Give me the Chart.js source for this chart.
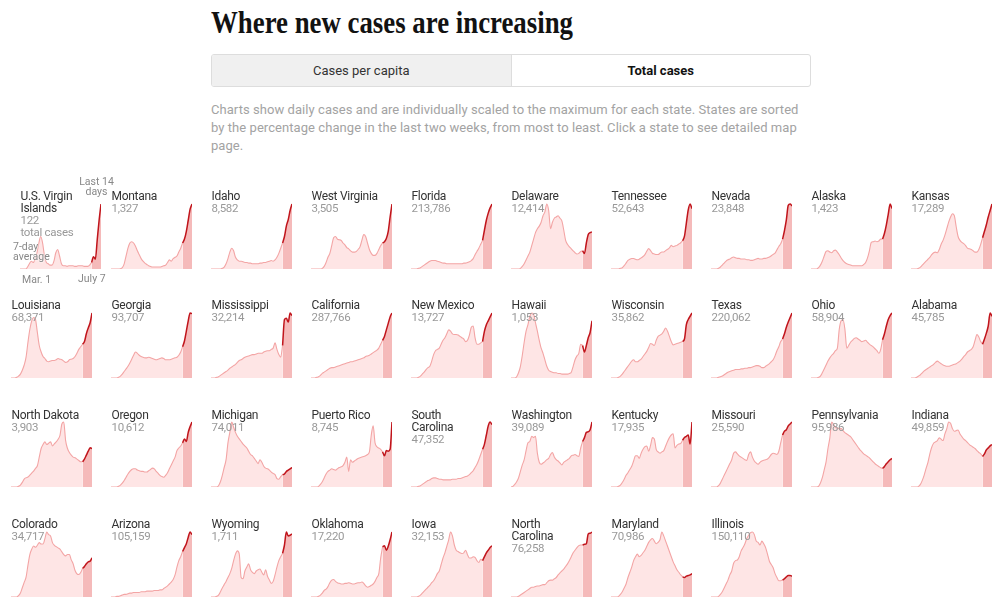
<!DOCTYPE html>
<html>
<head>
<meta charset="utf-8">
<script src="https://cdn.jsdelivr.net/npm/chart.js@4.4.1/dist/chart.umd.min.js"></script>
<style>
  body { margin: 0; background: #fff; font-family: Roboto, "Liberation Sans", sans-serif; }
  #page { position: relative; width: 1002px; height: 605px; overflow: hidden; }
  #title { position: absolute; left: 211px; top: 5px; margin: 0; font: bold 31px "Liberation Serif", serif;
    color: #121212; white-space: nowrap; transform-origin: 0 0; }
  .toggle { position: absolute; left: 211px; top: 54px; width: 598px; height: 31px; border: 1px solid #ddd;
    border-radius: 3px; display: flex; overflow: hidden; }
  .toggle div { flex: 1; text-align: center; line-height: 31px; font-size: 13px; color: #333; }
  .toggle .off { background: #f0f0f0; border-right: 1px solid #ddd; }
  .toggle .on { font-weight: bold; color: #121212; }
  #note { position: absolute; left: 211px; top: 101px; margin: 0; font-size: 13px; line-height: 18px;
    letter-spacing: 0.06px; color: #a3a3a3; white-space: nowrap; }
  .cell { position: absolute; }
  .lab { position: absolute; font-size: 12px; line-height: 12px; letter-spacing: -0.3px; color: #333;
    white-space: pre-line; pointer-events: none; }
  .lab span { color: #999; font-size: 11.5px; }
  .ann { position: absolute; font-size: 10.5px; line-height: 10px; color: #888; white-space: nowrap;
    text-shadow: 0 0 2px #fff, 0 0 2px #fff; }
</style>
</head>
<body>
<div id="page">
  <h1 id="title">Where new cases are increasing</h1>
  <div class="toggle"><div class="off">Cases per capita</div><div class="on">Total cases</div></div>
  <p id="note">Charts show daily cases and are individually scaled to the maximum for each state. States are sorted<br>by the percentage change in the last two weeks, from most to least. Click a state to see detailed map<br>page.</p>
</div>
<script>
// states in the order shown (sorted by two-week change)
const names = ['U.S. Virgin\nIslands', 'Montana', 'Idaho', 'West Virginia', 'Florida', 'Delaware', 'Tennessee', 'Nevada', 'Alaska', 'Kansas',
  'Louisiana', 'Georgia', 'Mississippi', 'California', 'New Mexico', 'Hawaii', 'Wisconsin', 'Texas', 'Ohio', 'Alabama',
  'North Dakota', 'Oregon', 'Michigan', 'Puerto Rico', 'South\nCarolina', 'Washington', 'Kentucky', 'Missouri', 'Pennsylvania', 'Indiana',
  'Colorado', 'Arizona', 'Wyoming', 'Oklahoma', 'Iowa', 'North\nCarolina', 'Maryland', 'Illinois'];

const totals = [122, 1327, 8582, 3505, 213786, 12414, 52643, 23848, 1423, 17289,
  68371, 93707, 32214, 287766, 13727, 1053, 35862, 220062, 58904, 45785,
  3903, 10612, 74011, 8745, 47352, 39089, 17935, 25590, 95986, 49859,
  34717, 105159, 1711, 17220, 32153, 76258, 70986, 150110];

// 7-day average, every third day from Mar. 1 to July 7, as % of each state's peak
const usvi = [0,0,0,0,3,8,12,10,15,25,40,50,40,20,10,8,6,6,12,25,30,20,8,5,5,4,5,5,5,4,4,5,5,5,4,4,4,6,10,19,15,45,75,100];
const montana = [0,0,0,0,0,0.5,2,8,20,32,40,42,40,35,28,22,16,12,9,7,5,4,3,3,3,3,3,4,5,6,10,14,12,16,18,20,26,32,40,46,58,75,92,100];
const idaho = [0,0,0,0,0,0,1,3,8,16,26,32,28,18,14,12,12,11,10,10,9,9,8,8,8,8,9,9,10,10,11,12,13,12,14,18,24,32,40,50,66,76,90,100];
const westVirginia = [0,0,0,0,0,0,1,4,10,18,24,36,48,50,46,45,44,40,37,33,31,28,26,26,27,30,34,44,53,50,40,30,24,21,21,24,30,36,40,42,47,58,80,100];
const florida = [0,0,0,0,1,2,4,6,8,10,12,13,13,13,12,11,10,9,9,8,8,8,8,8,8,8,8,8,9,9,10,11,13,16,22,27,32,38,44,60,75,86,94,100];
const delaware = [0,0,0,0,0,1,4,8,14,20,26,36,46,56,62,66,72,82,88,100,90,62,72,78,80,82,78,74,60,44,38,34,31,28,25,23,24,27,28,24,40,53,56,57];
const tennessee = [0,0,0,0,0,1,2,5,9,13,15,16,16,15,14,15,17,19,22,27,31,28,24,23,22,22,24,26,26,28,30,32,36,34,35,36,38,40,43,50,70,90,99,92];
const nevada = [0,0,0,0,1,3,6,9,12,14,15,17,18,17,16,16,15,15,15,14,14,13,13,14,15,16,15,15,16,16,17,18,20,22,24,29,34,38,45,58,74,96,98,95];
const alaska = [0,0,0,0,2,6,12,20,27,28,26,25,28,29,26,22,17,13,10,8,7,6,5,5,5,5,5,5,7,10,17,28,41,42,43,42,43,46,46,55,68,84,100,93];
const kansas = [0,0,0,0,1,3,6,9,12,15,18,22,25,26,25,30,38,44,52,62,72,80,85,82,65,50,44,41,39,36,32,31,30,28,26,26,30,38,48,58,68,80,90,100];
const louisiana = [0,0,0,1,3,6,12,20,32,55,75,88,93,90,70,50,40,33,30,26,25,26,27,27,28,30,29,28,26,24,25,28,29,30,33,38,44,48,52,56,68,77,85,100];
const georgia = [0,0,0,0,1,3,6,10,14,18,23,29,35,40,38,35,33,32,31,31,32,31,30,29,28,29,30,31,30,28,28,28,29,30,31,32,35,40,48,57,72,88,100,99];
const mississippi = [0,0,0,1,2,4,6,8,10,12,15,17,19,21,24,27,28,30,32,33,34,35,36,36,37,38,38,38,40,41,42,42,44,46,54,44,36,32,50,90,92,86,100,96];
const california = [0,0,0,1,2,4,7,9,11,13,15,16,16,17,18,19,20,21,22,23,24,25,25,26,27,28,29,30,31,33,34,35,37,39,41,43,46,52,58,64,74,84,94,100];
const newMexico = [0,0,0,0,1,3,6,9,13,16,18,26,36,42,44,46,52,58,62,68,74,72,68,67,67,66,64,62,60,56,58,66,78,80,62,52,52,54,56,72,82,88,94,100];
const hawaii = [0,0,0,2,8,18,35,55,72,82,95,100,98,85,72,58,46,38,28,18,12,10,9,8,8,7,7,6,6,6,6,7,9,18,28,34,38,52,50,40,50,62,70,88];
const wisconsin = [0,0,0,0,1,3,6,10,14,18,22,26,28,25,25,27,29,33,37,41,47,53,52,50,58,64,66,68,72,77,72,64,56,51,52,53,54,55,56,60,82,90,95,100];
const texas = [0,0,0,0,1,2,3,5,7,9,10,11,12,13,13,13,14,14,15,15,16,16,17,18,19,19,18,16,16,18,20,22,25,28,34,42,48,56,60,68,78,86,93,100];
const ohio = [0,0,0,0,1,3,8,14,20,26,31,35,38,42,46,75,88,90,75,46,50,55,58,61,62,60,58,56,57,58,55,52,50,48,45,42,38,44,59,68,80,90,96,100];
const alabama = [0,0,0,1,3,5,8,11,13,15,17,19,21,24,26,24,22,20,19,18,18,19,20,21,22,24,26,29,33,36,40,42,44,48,58,67,63,56,52,60,69,80,100,95];
const northDakota = [0,0,0,0,1,3,7,12,14,15,18,21,24,28,32,45,58,64,68,64,66,68,62,65,68,72,78,95,98,70,58,52,48,45,44,42,40,38,38,42,48,54,59,58];
const oregon = [0,0,0,0,1,3,6,10,15,20,24,27,28,28,26,25,24,24,23,23,25,27,29,28,24,21,18,16,15,18,22,28,34,40,46,56,60,63,68,74,70,84,93,100];
const michigan = [0,0,0,0,2,8,18,30,42,68,84,100,92,84,78,74,70,66,63,60,55,50,48,44,40,36,42,38,32,29,28,26,23,21,19,13,12,16,19,20,24,26,28,30];
const puertoRico = [0,0,0,0,1,4,8,14,20,24,26,28,27,26,28,30,31,33,38,46,24,42,38,40,42,44,45,46,47,48,50,54,80,94,68,62,60,58,54,48,56,55,58,100];
const southCarolina = [0,0,0,0,1,2,4,6,8,10,11,13,14,14,13,12,12,11,11,11,11,11,12,12,12,13,13,14,15,16,17,19,22,25,30,35,42,50,58,66,80,94,100,96];
const washington = [0,1,4,8,14,24,34,42,56,68,70,78,76,78,52,38,35,37,39,42,44,50,53,46,42,40,37,34,38,40,42,44,48,49,50,48,47,60,70,76,84,85,88,100];
const kentucky = [0,0,0,0,1,3,7,12,18,22,27,32,40,48,48,44,52,58,62,63,55,64,76,74,58,54,52,54,56,63,70,76,80,82,60,64,66,67,72,76,78,80,66,100];
const missouri = [0,0,0,0,2,6,12,18,24,30,36,42,52,54,51,48,46,44,42,41,50,54,46,40,37,35,38,40,41,42,43,46,50,52,51,50,55,68,80,86,88,94,97,100];
const pennsylvania = [0,0,0,0,1,6,14,26,38,58,74,98,94,90,89,88,88,85,82,80,78,76,72,68,64,60,56,53,50,48,46,44,41,38,35,33,31,29,28,31,35,38,41,43];
const indiana = [0,0,0,0,1,4,10,18,28,37,50,60,66,68,70,74,72,70,80,88,98,96,88,84,85,86,80,76,72,70,67,64,62,60,58,55,52,50,46,50,56,59,62,64];
const colorado = [0,0,0,0,2,6,14,22,30,48,64,72,77,75,78,82,80,80,88,98,94,92,82,78,76,74,72,68,64,62,64,64,56,50,40,35,34,37,43,46,50,53,54,59];
const arizona = [0,0,0,1,1,2,3,4,4,5,6,6,7,7,7,7,8,8,8,9,9,9,9,10,10,10,11,11,13,15,17,20,23,27,34,46,56,62,70,76,82,92,100,96];
const wyoming = [0,0,0,1,3,8,14,19,24,30,36,44,56,66,71,66,30,28,40,46,51,42,38,36,40,42,43,38,34,42,32,26,21,24,34,46,56,62,67,80,100,94,95,97];
const oklahoma = [0,0,0,0,1,3,6,10,12,16,22,26,27,24,22,21,20,20,21,21,22,21,20,20,21,22,22,23,21,17,15,16,18,20,24,30,36,60,77,79,72,78,88,100];
const iowa = [0,0,0,0,1,3,6,9,12,15,18,22,25,30,36,40,50,60,68,78,88,100,94,80,72,70,68,67,68,72,65,60,60,62,61,56,53,58,56,62,68,72,76,79];
const northCarolina = [0,0,0,0,1,3,5,7,9,11,13,15,15,16,17,17,18,19,19,22,25,26,26,28,30,34,37,40,43,47,51,56,62,68,72,76,79,80,80,81,82,97,98,100];
const maryland = [0,0,0,0,1,4,8,14,20,30,38,46,56,62,66,62,64,68,72,78,84,88,90,86,82,84,88,100,94,86,78,70,62,54,48,42,38,34,31,30,32,33,34,36];
const illinois = [0,0,0,0,1,4,8,14,20,26,34,40,52,56,57,62,71,76,82,90,95,99,100,96,86,84,80,86,82,76,66,55,50,45,36,30,25,25,26,28,31,33,33,32];

const series = [usvi, montana, idaho, westVirginia, florida, delaware, tennessee, nevada, alaska, kansas,
  louisiana, georgia, mississippi, california, newMexico, hawaii, wisconsin, texas, ohio, alabama,
  northDakota, oregon, michigan, puertoRico, southCarolina, washington, kentucky, missouri, pennsylvania, indiana,
  colorado, arizona, wyoming, oklahoma, iowa, northCarolina, maryland, illinois];

// x labels: Mar. 1 + 3 days per point
const days = usvi.map((_, i) => {
  const d = new Date(2020, 2, 1 + i * 3);
  return d.toLocaleDateString('en-US', { month: 'short', day: 'numeric' });
});
const lastStart = 38; // last 14 days

const page = document.getElementById('page');

// squeeze the serif title to the width of the original face
const title = document.getElementById('title');
title.style.transform = 'scaleX(' + (362 / title.getBoundingClientRect().width) + ')';

series.forEach((vals, k) => {
  const row = Math.floor(k / 10), col = k % 10;
  const left = k === 0 ? 20 : 11 + 100 * col;
  const base = 268.5 + 109.4 * row;
  const h = 70;

  const cell = document.createElement('div');
  cell.className = 'cell';
  cell.style.cssText = `left:${left}px;top:${base - h}px;width:81px;height:${h}px`;
  const cv = document.createElement('canvas');
  cell.appendChild(cv);
  page.appendChild(cell);

  const lab = document.createElement('div');
  lab.className = 'lab';
  lab.style.left = (left + 0.5) + 'px';
  lab.style.top = (190 + 109.4 * row) + 'px';
  lab.textContent = names[k] + '\n';
  const num = document.createElement('span');
  num.textContent = totals[k].toLocaleString('en-US') + (k === 0 ? '\ntotal cases' : '');
  lab.appendChild(num);
  page.appendChild(lab);

  const early = vals.map((v, i) => i <= lastStart ? v : null);
  const recent = vals.map((v, i) => i >= lastStart ? v : null);
  const top = Math.max(...vals) * h / 65;

  new Chart(cv, {
    type: 'line',
    data: {
      labels: days,
      datasets: [
        { data: recent, order: 0, borderColor: '#c0141b', borderWidth: 1.5, backgroundColor: '#f5baba',
          fill: 'origin', pointRadius: 0, tension: 0.25, cubicInterpolationMode: 'monotone' },
        { data: early, order: 1, borderColor: '#f3a5a5', borderWidth: 1.1, backgroundColor: '#fee5e5',
          fill: 'origin', pointRadius: 0, tension: 0.25, cubicInterpolationMode: 'monotone' }
      ]
    },
    options: {
      responsive: true,
      maintainAspectRatio: false,
      animation: false,
      layout: { padding: 0 },
      plugins: { legend: { display: false }, tooltip: { enabled: false } },
      scales: {
        x: { display: false, offset: false },
        y: { display: false, min: 0, max: top }
      }
    }
  });
});

// notes on the first chart
[['Last 14', 96.5, 177, 'center'], ['days', 96.5, 187, 'center'], ['7-day', 13, 242, 'left'],
 ['average', 13, 252, 'left'], ['Mar. 1', 22, 275, 'left'], ['July 7', 78, 274, 'left']].forEach(([t, x, y, a]) => {
  const el = document.createElement('div');
  el.className = 'ann';
  el.textContent = t;
  el.style.top = y + 'px';
  if (a === 'center') { el.style.left = (x - 30) + 'px'; el.style.width = '60px'; el.style.textAlign = 'center'; }
  else el.style.left = x + 'px';
  page.appendChild(el);
});
</script>
</body>
</html>
